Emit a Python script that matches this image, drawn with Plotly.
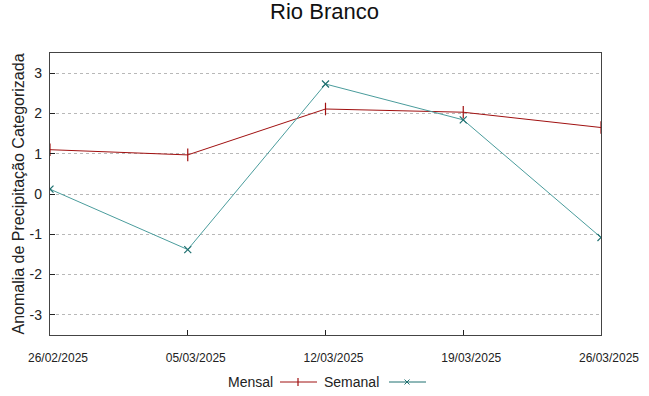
import plotly.graph_objects as go

dates = ["2025-02-26", "2025-03-05", "2025-03-12", "2025-03-19", "2025-03-26"]
tick_labels = ["26/02/2025", "05/03/2025", "12/03/2025", "19/03/2025", "26/03/2025"]
mensal = [1.10, 0.97, 2.11, 2.03, 1.65]
semanal = [0.12, -1.38, 2.73, 1.84, -1.08]
y_ticks = [-3, -2, -1, 0, 1, 2, 3]
y_tick_labels = ["-3", "-2", "-1", "0", "1", "2", "3"]

RED = "#a01010"
TEAL_LINE = "#4a9c9c"
TEAL_MARK = "#1f7070"

W, H = 649, 396
ML, MR, MT, MB = 50, 48, 53, 61
PW, PH = W - ML - MR, H - MT - MB

fig = go.Figure()
fig.add_trace(go.Scatter(
    x=dates, y=mensal, name="Mensal", mode="lines+markers",
    line=dict(color=RED, width=1),
    marker=dict(symbol="line-ns", size=9, line=dict(color=RED, width=1.2), color=RED),
    showlegend=False,
))
fig.add_trace(go.Scatter(
    x=dates, y=semanal, name="Semanal", mode="lines+markers",
    line=dict(color=TEAL_LINE, width=1),
    marker=dict(symbol="x-thin", size=7, line=dict(color=TEAL_MARK, width=1.2), color=TEAL_MARK),
    showlegend=False,
))

# custom gnuplot-style legend (text then sample), paper coords relative to plot area
def px(x):
    return (x - ML) / PW
def py(y):
    return (MT + PH - y) / PH

shapes = []
annotations = []
legend_y = 382
annotations.append(dict(text="Mensal", x=px(275), y=py(legend_y), xref="paper", yref="paper",
                        xanchor="right", yanchor="middle", showarrow=False,
                        font=dict(size=14, color="#222")))
shapes.append(dict(type="line", xref="paper", yref="paper", x0=px(280), x1=px(317),
                   y0=py(legend_y), y1=py(legend_y), line=dict(color=RED, width=1)))
shapes.append(dict(type="line", xref="paper", yref="paper", x0=px(298), x1=px(298),
                   y0=py(legend_y - 4), y1=py(legend_y + 4), line=dict(color=RED, width=1.2)))
annotations.append(dict(text="Semanal", x=px(381), y=py(legend_y), xref="paper", yref="paper",
                        xanchor="right", yanchor="middle", showarrow=False,
                        font=dict(size=14, color="#222")))
shapes.append(dict(type="line", xref="paper", yref="paper", x0=px(389), x1=px(426),
                   y0=py(legend_y), y1=py(legend_y), line=dict(color=TEAL_MARK, width=1)))
shapes.append(dict(type="line", xref="paper", yref="paper", x0=px(404.5), x1=px(409.5),
                   y0=py(legend_y - 2.5), y1=py(legend_y + 2.5), line=dict(color=TEAL_MARK, width=1)))
shapes.append(dict(type="line", xref="paper", yref="paper", x0=px(404.5), x1=px(409.5),
                   y0=py(legend_y + 2.5), y1=py(legend_y - 2.5), line=dict(color=TEAL_MARK, width=1)))

fig.update_layout(
    width=W, height=H,
    margin=dict(l=ML, r=MR, t=MT, b=MB, autoexpand=False),
    paper_bgcolor="white", plot_bgcolor="white",
    font=dict(family="Liberation Sans, Arial, sans-serif", color="#222"),
    title=dict(text="Rio Branco", x=0.5, xanchor="center", y=0.99, yanchor="top",
               font=dict(size=22, color="#111")),
    showlegend=False,
    shapes=shapes,
    annotations=annotations,
    xaxis=dict(
        type="date", range=[dates[0], dates[-1]],
        tickvals=dates, ticktext=tick_labels,
        tickfont=dict(family="Liberation Sans Narrow, Liberation Sans, sans-serif", size=12, color="#222"),
        ticklabelstandoff=11, ticklabelshift=8,
        showgrid=False, zeroline=False, automargin=False,
        showline=True, linecolor="#444", linewidth=1.3, mirror=True,
        ticks="inside", ticklen=5, tickcolor="#222",
    ),
    yaxis=dict(
        range=[-3.5, 3.5], tickvals=y_ticks, ticktext=y_tick_labels,
        tickfont=dict(size=14, color="#222"),
        ticklabelstandoff=4,
        title=dict(text="Anomalia de Precipitação Categorizada", font=dict(size=16, color="#222"), standoff=0),
        showgrid=True, gridcolor="#b8b8b8", griddash="dot", gridwidth=1,
        zeroline=False, automargin=False,
        showline=True, linecolor="#444", linewidth=1.3, mirror=True,
        ticks="inside", ticklen=5, tickcolor="#222",
    ),
)

fig.write_html("out.html", post_script="document.body.style.margin='0';",
               config={"displayModeBar": False})
